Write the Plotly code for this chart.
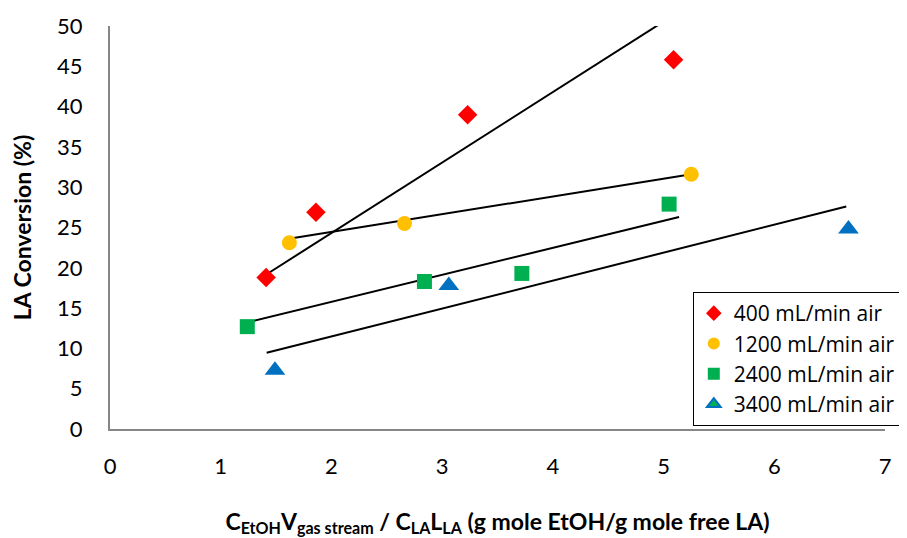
import plotly.graph_objects as go

# ---- data ----
series_names = ["400 mL/min air", "1200 mL/min air", "2400 mL/min air", "3400 mL/min air"]

x_400 = [1.41, 1.86, 3.23, 5.09]
y_400 = [18.8, 26.9, 39.0, 45.8]

x_1200 = [1.62, 2.66, 5.25]
y_1200 = [23.1, 25.5, 31.6]

x_2400 = [1.24, 2.84, 3.72, 5.05]
y_2400 = [12.7, 18.3, 19.3, 27.9]

x_3400 = [1.49, 3.06, 6.67]
y_3400 = [7.3, 17.8, 24.8]

# fitted lines (start, end) as drawn in the reference
line_x_400 = [1.415, 4.96]
line_y_400 = [19.2, 50.2]
line_x_1200 = [1.615, 5.25]
line_y_1200 = [23.6, 31.6]
line_x_2400 = [1.235, 5.14]
line_y_2400 = [13.2, 26.3]
line_x_3400 = [1.415, 6.65]
line_y_3400 = [9.45, 27.6]

x_ticks = [0, 1, 2, 3, 4, 5, 6, 7]
y_ticks = [0, 5, 10, 15, 20, 25, 30, 35, 40, 45, 50]

FONT = "Lato, 'Open Sans', sans-serif"

fig = go.Figure()

# trend lines
for lx, ly in [(line_x_400, line_y_400), (line_x_1200, line_y_1200),
               (line_x_2400, line_y_2400), (line_x_3400, line_y_3400)]:
    fig.add_trace(go.Scatter(x=lx, y=ly, mode="lines",
                             line=dict(color="black", width=2),
                             showlegend=False, hoverinfo="skip"))

fig.add_trace(go.Scatter(x=x_400, y=y_400, mode="markers", name=series_names[0],
                         marker=dict(symbol="diamond", size=15, color="#FF0000")))
fig.add_trace(go.Scatter(x=x_1200, y=y_1200, mode="markers", name=series_names[1],
                         marker=dict(symbol="circle", size=15, color="#FFC000")))
fig.add_trace(go.Scatter(x=x_2400, y=y_2400, mode="markers", name=series_names[2],
                         marker=dict(symbol="square", size=15, color="#00B050")))
fig.add_trace(go.Scatter(x=x_3400, y=y_3400, mode="markers", name=series_names[3],
                         showlegend=False,
                         marker=dict(symbol="triangle-up", size=18, color="#0070C0")))
# legend swatch for the 3400 series (green fill with blue outline, as in the reference)
fig.add_trace(go.Scatter(x=[None], y=[None], mode="markers", name=series_names[3],
                         marker=dict(symbol="triangle-up", size=15, color="#00B050",
                                     line=dict(color="#0070C0", width=2))))

axis_col = "#868686"

fig.update_layout(
    width=907, height=538,
    margin=dict(l=102, r=30, t=18, b=117, autoexpand=False),
    paper_bgcolor="white", plot_bgcolor="white",
    font=dict(family=FONT, size=22, color="black"),
    showlegend=True,
    legend=dict(x=0.752, y=0.34, xanchor="left", yanchor="top",
                bordercolor="black", borderwidth=1, bgcolor="white",
                font=dict(size=21, family="'Open Sans', Lato, sans-serif"),
                traceorder="normal", itemsizing="constant"),
    xaxis=dict(range=[0, 7], tickvals=x_ticks, ticktext=[str(v) for v in x_ticks],
               showgrid=False, zeroline=False, showline=True, automargin=False,
               linecolor=axis_col, linewidth=2, ticks="",
               ticklabelstandoff=17,
               title=dict(text="<b>C<sub>EtOH</sub>V<sub>gas stream</sub> / C<sub>LA</sub>L<sub>LA</sub> (g mole EtOH/g mole free LA)</b>",
                          font=dict(size=23), standoff=35)),
    yaxis=dict(range=[0, 50], tickvals=y_ticks, ticktext=[str(v) for v in y_ticks],
               showgrid=False, zeroline=False, showline=True, automargin=False,
               linecolor=axis_col, linewidth=2, ticks="",
               ticklabelstandoff=21,
               title=dict(text="<b>LA Conversion (%)</b>", font=dict(size=23), standoff=24)),
)

fig.write_html("out.html")
